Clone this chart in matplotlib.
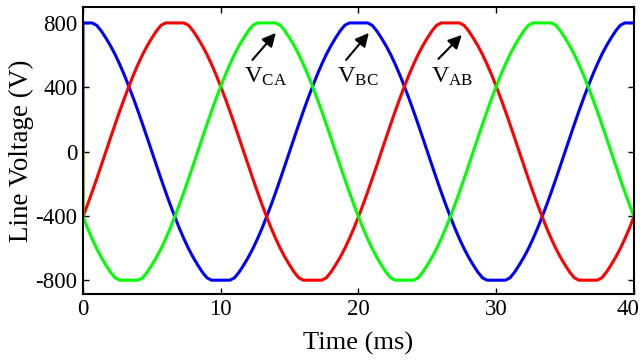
import numpy as np
import matplotlib
matplotlib.use('Agg')
import matplotlib.pyplot as plt
import matplotlib.transforms as mtransforms

plt.rcParams['font.family'] = ['Liberation Serif', 'DejaVu Serif']
plt.rcParams['mathtext.fontset'] = 'custom'
plt.rcParams['mathtext.rm'] = 'Liberation Serif'
plt.rcParams['axes.unicode_minus'] = False

# one period (20 ms) of V_BC, read every 1/3 ms (6 deg steps), in volts
v_bc_period = [800, 800, 800, 785, 750, 706, 658, 604, 543, 477,
               405, 330, 251, 169, 85, 0, -85, -169, -251, -330,
               -405, -477, -543, -604, -658, -706, -750, -785, -800, -800,
               -800, -800, -800, -785, -750, -706, -658, -604, -543, -477,
               -405, -330, -251, -169, -85, 0, 85, 169, 251, 330,
               405, 477, 543, 604, 658, 706, 750, 785, 800, 800]
sample_ms = 1 / 3
n_periods = 2
# phase lag of each line voltage in samples (120 deg = 20 samples)
lag_samples = {'V_AB': 20, 'V_BC': 0, 'V_CA': 40}
colors = {'V_AB': '#ff0000', 'V_BC': '#0000ff', 'V_CA': '#00ff00'}
x_ticks = [0, 10, 20, 30, 40]
y_ticks = [-800, -400, 0, 400, 800]

n = len(v_bc_period) * n_periods
t = np.concatenate([[0.0], np.arange(n + 1) * sample_ms])

fig = plt.figure(figsize=(6.43, 3.61), dpi=100)
ax = fig.add_axes([0.129, 0.186, 0.857, 0.795])

for name in ['V_BC', 'V_AB', 'V_CA']:
    per = np.roll(v_bc_period, lag_samples[name])
    v = np.tile(per, n_periods)
    v = np.concatenate([[0.0], v, [per[0]]])  # simulation starts from 0 V
    ax.plot(t, v, color=colors[name], lw=2.2)

ax.set_xlim(0, 40)
ax.set_ylim(-885, 900)
ax.set_xticks(x_ticks)
ax.set_yticks(y_ticks)
ax.tick_params(direction='in', top=True, right=True, length=4, width=1,
               labelsize=16.5, pad=4)
for s in ax.spines.values():
    s.set_linewidth(1.5)
ax.set_xlabel('Time (ms)', fontsize=19, labelpad=8)
ax.set_ylabel('Line Voltage (V)', fontsize=19.5, labelpad=1)

# keep the last x tick label inside the figure
last = ax.get_xticklabels()[-1]
last.set_transform(last.get_transform() +
                   mtransforms.ScaledTranslation(-6 / 100, 0, fig.dpi_scale_trans))

arrow = dict(arrowstyle='-|>', color='k', lw=1.5, mutation_scale=20,
             shrinkA=0, shrinkB=0)
ax.annotate('', xy=(14.0, 738), xytext=(12.3, 570), arrowprops=arrow)
ax.annotate('', xy=(20.75, 738), xytext=(19.1, 570), arrowprops=arrow)
ax.annotate('', xy=(27.5, 725), xytext=(25.8, 576), arrowprops=arrow)
ax.text(11.7, 430, r'$\mathregular{V_{CA}}$', fontsize=17.5, va='baseline')
ax.text(18.45, 430, r'$\mathregular{V_{BC}}$', fontsize=17.5, va='baseline')
ax.text(25.25, 430, r'$\mathregular{V_{AB}}$', fontsize=17.5, va='baseline')

fig.savefig('out.png', dpi=100)
